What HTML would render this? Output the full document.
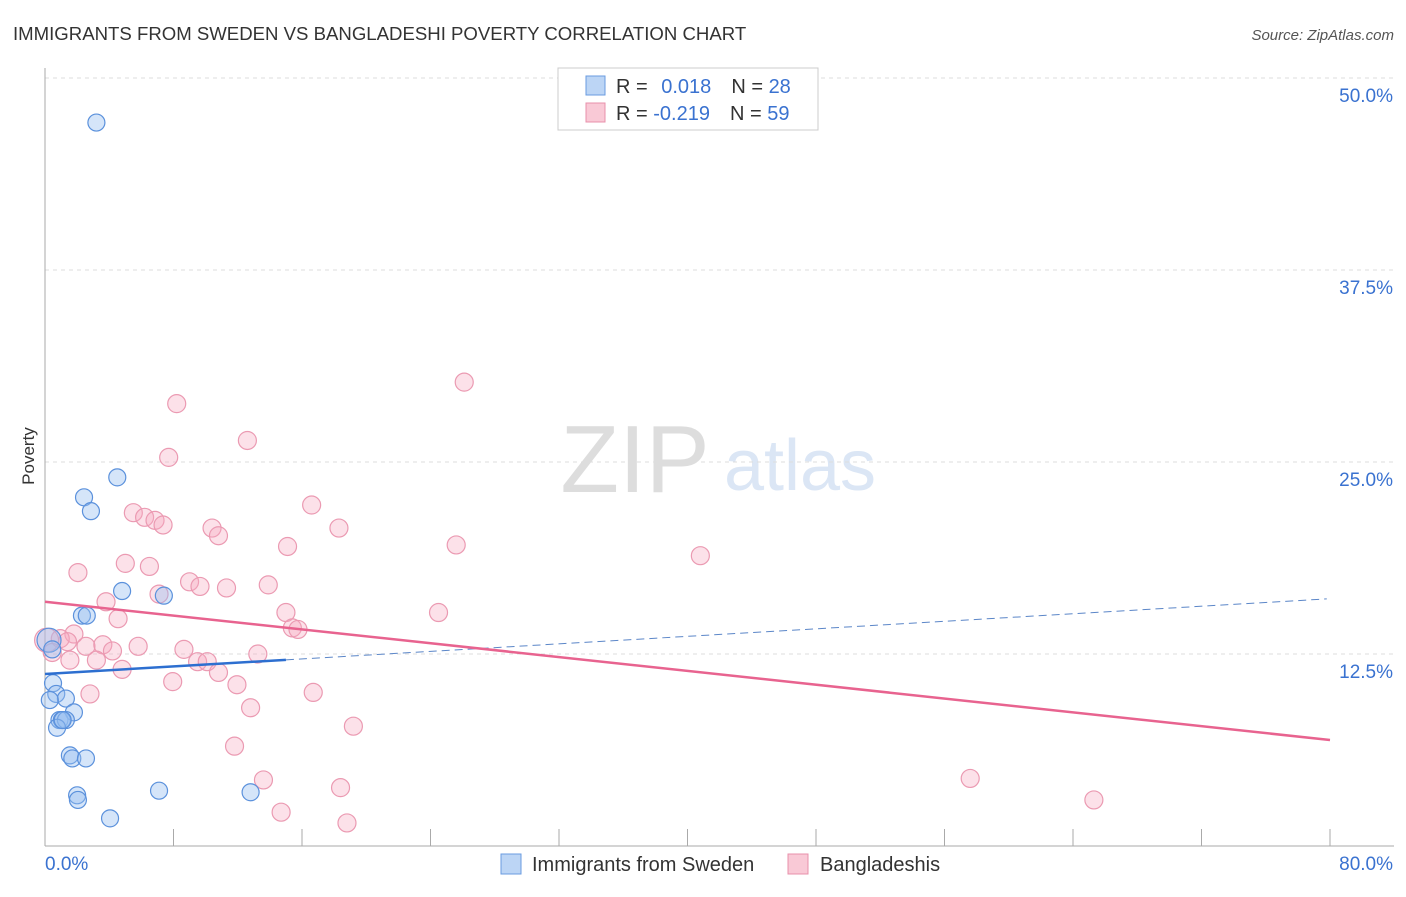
<!DOCTYPE html>
<html><head><meta charset="utf-8"><style>
body{margin:0;background:#fff;font-family:"Liberation Sans",sans-serif}
svg text{font-family:"Liberation Sans",sans-serif}
</style></head><body>
<svg id="c" width="1406" height="892">
<text x="13" y="40" font-size="18.6" fill="#333">IMMIGRANTS FROM SWEDEN VS BANGLADESHI POVERTY CORRELATION CHART</text>
<text x="1394" y="40" font-size="15" fill="#555" font-style="italic" text-anchor="end">Source: ZipAtlas.com</text>
<text x="34" y="456" font-size="17" fill="#333" transform="rotate(-90 34 456)" text-anchor="middle">Poverty</text>
<g><text x="635" y="492" font-size="96" fill="#ddd" font-family="Liberation Serif" text-anchor="middle">ZIP</text><text x="800" y="490" font-size="72" fill="#dbe6f5" text-anchor="middle">atlas</text></g>
<g id="grid"></g><g id="axes"></g><g id="pts"></g><g id="lines"></g>
<g>
<rect x="558" y="68" width="260" height="62" fill="#fff" stroke="#ccc"/>
<rect x="586" y="76" width="19" height="19" fill="#bcd5f5" stroke="#6a9be0"/>
<rect x="586" y="103" width="19" height="19" fill="#f9c9d6" stroke="#e890ab"/>
<text x="616" y="93" font-size="20" fill="#333">R = <tspan fill="#3a72d0" dx="8">0.018</tspan><tspan dx="20" fill="#333">N = </tspan><tspan fill="#3a72d0">28</tspan></text>
<text x="616" y="120" font-size="20" fill="#333">R = <tspan fill="#3a72d0">-0.219</tspan><tspan dx="20" fill="#333">N = </tspan><tspan fill="#3a72d0">59</tspan></text>
</g>
<g>
<rect x="501" y="854" width="20" height="20" fill="#bcd5f5" stroke="#6a9be0"/>
<text x="532" y="871" font-size="20" fill="#333">Immigrants from Sweden</text>
<rect x="788" y="854" width="20" height="20" fill="#f9c9d6" stroke="#e890ab"/>
<text x="820" y="871" font-size="20" fill="#333">Bangladeshis</text>
</g>
</svg>
<script>
const yTicks=[12.5,25,37.5,50];
const yTickLabels=["12.5%","25.0%","37.5%","50.0%"];
const xTicks=[0,8,16,24,32,40,48,56,64,72,80];
const swedenX=[3.2,4.5,2.43,2.86,4.8,7.4,2.3,2.6,0.5,0.7,1.3,0.3,1.8,0.9,1.05,1.3,0.75,1.55,1.7,2.55,2.0,2.05,4.05,7.1,12.8,0.25,0.45,1.1];
const swedenY=[47.1,24.0,22.7,21.8,16.6,16.3,15.0,15.0,10.6,9.9,9.6,9.5,8.7,8.2,8.2,8.2,7.7,5.9,5.7,5.7,3.3,3.0,1.8,3.6,3.5,13.4,12.8,8.2];
const banglaX=[26.1,8.2,12.6,7.7,16.6,5.5,6.2,6.85,7.35,10.4,10.8,18.3,15.1,25.6,40.8,5.0,6.5,2.05,9.0,9.65,11.3,13.9,3.8,7.1,4.55,15.0,24.5,15.4,15.75,1.8,0.95,1.4,2.55,3.6,5.8,0.1,0.45,1.55,3.2,4.2,8.65,9.5,10.1,13.25,4.8,10.8,7.95,11.95,2.8,16.7,12.8,19.2,11.8,13.6,18.4,14.7,18.8,57.6,65.3];
const banglaY=[30.2,28.8,26.4,25.3,22.2,21.7,21.4,21.2,20.9,20.7,20.2,20.7,19.5,19.6,18.9,18.4,18.2,17.8,17.2,16.9,16.8,17.0,15.9,16.4,14.8,15.2,15.2,14.2,14.1,13.8,13.5,13.3,13.0,13.1,13.0,13.4,12.6,12.1,12.1,12.7,12.8,12.0,12.0,12.5,11.5,11.3,10.7,10.5,9.9,10.0,9.0,7.8,6.5,4.3,3.8,2.2,1.5,4.4,3.0];
const trendStart=[11.2,15.9];const trendEnd=[16.1,6.9];
const X=v=>45+v/80*1285, Y=v=>846-v*15.36;
const NS="http://www.w3.org/2000/svg";
function mk(t,a,p){const e=document.createElementNS(NS,t);for(const k in a)e.setAttribute(k,a[k]);document.getElementById(p).appendChild(e);return e;}
yTicks.forEach((v,i)=>{
 const l=mk('line',{x1:45,x2:1394,y1:Y(v),y2:Y(v),stroke:'#ddd','stroke-dasharray':'4,4'},'grid');
 
 
 const t=mk('text',{x:1393,y:Y(v)+24,'font-size':19,fill:'#3a72d0','text-anchor':'end'},'axes');t.textContent=yTickLabels[i];
 
 
});
let a=mk('line',{x1:45,x2:45,y1:68,y2:846,stroke:'#aaa'},'axes');


a=mk('line',{x1:45,x2:1394,y1:846,y2:846,stroke:'#aaa'},'axes');


xTicks.forEach(v=>{const l=mk('line',{x1:X(v),x2:X(v),y1:829,y2:846,stroke:'#aaa'},'axes');
 
 });
let t=mk('text',{x:45,y:870,'font-size':19,fill:'#3a72d0'},'axes');t.textContent='0.0%';


t=mk('text',{x:1393,y:870,'font-size':19,fill:'#3a72d0','text-anchor':'end'},'axes');t.textContent='80.0%';


banglaX.forEach((v,i)=>{const c=mk('circle',{cx:X(v),cy:Y(banglaY[i]),r:i==35?12:9,fill:'rgba(246,170,192,0.35)',stroke:'#eb9ab2','stroke-width':1.2},'pts');
 
 });
swedenX.forEach((v,i)=>{const c=mk('circle',{cx:X(v),cy:Y(swedenY[i]),r:i==25?12:8.5,fill:'rgba(150,190,240,0.4)',stroke:'#5b91dc','stroke-width':1.2},'pts');
 
 });
const sy=x=>trendStart[0]+(trendEnd[0]-trendStart[0])*x/80, by=x=>trendStart[1]+(trendEnd[1]-trendStart[1])*x/80;
let l=mk('line',{x1:X(15),y1:Y(sy(15)),x2:X(79.8),y2:Y(sy(79.8)),stroke:'#5b86c8','stroke-dasharray':'8,5','stroke-width':1},'lines');


l=mk('line',{x1:X(0),y1:Y(sy(0)),x2:X(15),y2:Y(sy(15)),stroke:'#2d6fd0','stroke-width':2.5},'lines');


l=mk('line',{x1:X(0),y1:Y(by(0)),x2:X(80),y2:Y(by(80)),stroke:'#e8638f','stroke-width':2.5},'lines');


</script>
</body></html>
